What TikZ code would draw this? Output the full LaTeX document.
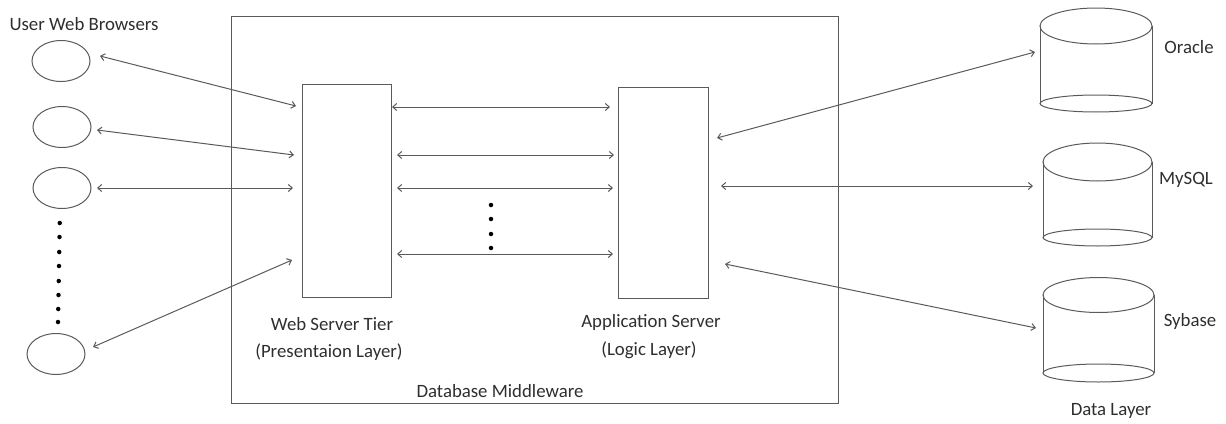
\documentclass[tikz,border=0pt]{standalone}
\usepackage{fontspec}
\setmainfont{Carlito}
\usetikzlibrary{shapes.geometric,arrows.meta}
\definecolor{ln}{HTML}{5A5A5A}
\definecolor{tx}{HTML}{2E2E2E}
\begin{document}
\begin{tikzpicture}[x=1pt,y=-1pt,
  lbl/.style={text=tx,font=\fontsize{18.8}{21}\selectfont,inner sep=0pt},
  browser/.style={draw=ln,line width=1pt,ellipse,minimum width=58pt,minimum height=41pt,inner sep=0pt},
  tierbox/.style={draw=ln,line width=1pt,rectangle,inner sep=0pt},
  conn/.style={draw=ln,line width=1pt,{Straight Barb[length=4pt,width=7pt]}-{Straight Barb[length=4pt,width=7pt]}},
  dotm/.style={fill=black,circle,inner sep=0pt,minimum size=4.5pt},
  cyl/.style={draw=ln,line width=1pt}]
\useasboundingbox (0,0) rectangle (1226,423);
% middleware box
\node[tierbox,minimum width=607pt,minimum height=387pt,anchor=north west] (mw) at (231,16) {};
\node[tierbox,minimum width=89pt,minimum height=213pt,anchor=north west] (ws) at (302,84) {};
\node[tierbox,minimum width=90pt,minimum height=211pt,anchor=north west] (as) at (618,87) {};
% browsers
\node[browser] (b1) at (61,61) {};
\node[browser] (b2) at (62,127) {};
\node[browser] (b3) at (62,188) {};
\node[browser] (b4) at (56,354) {};
\foreach \i/\y in {1/223,2/237,3/252,4/266,5/281,6/295,7/309,8/322}
  \node[dotm] (vd\i) at ({60-\i*0.25},\y) {};
\foreach \i/\y in {1/205,2/219,3/234,4/248}
  \node[dotm] (md\i) at (491,\y) {};
% cylinders
\draw[cyl] (1096,26) ellipse [x radius=56, y radius=18];
\draw[cyl] (1040,26) -- (1040,103.5) (1152,26) -- (1152,103.5);
\draw[cyl] (1096,103.5) ellipse [x radius=56, y radius=8.5];
\node[inner sep=0pt,minimum width=112pt,minimum height=105pt] (ora) at (1096,60) {};
\draw[cyl] (1097.5,162) ellipse [x radius=54.5, y radius=19];
\draw[cyl] (1043,162) -- (1043,237.5) (1152,162) -- (1152,237.5);
\draw[cyl] (1097.5,237.5) ellipse [x radius=54.5, y radius=8.5];
\node[inner sep=0pt,minimum width=109pt,minimum height=103pt] (mys) at (1097.5,194) {};
\draw[cyl] (1098.5,295) ellipse [x radius=55.5, y radius=17.5];
\draw[cyl] (1043,295) -- (1043,373) (1154,295) -- (1154,373);
\draw[cyl] (1098.5,373) ellipse [x radius=55.5, y radius=9];
\node[inner sep=0pt,minimum width=111pt,minimum height=104pt] (syb) at (1098.5,330) {};
% connector endpoints
\coordinate (b1e) at (100,56); \coordinate (w1) at (296,106);
\coordinate (b2e) at (97,130); \coordinate (w2) at (294,155);
\coordinate (b3e) at (97,188); \coordinate (w3) at (293,188);
\coordinate (b4e) at (93,347); \coordinate (w4) at (292,260);
\coordinate (m1a) at (392,107); \coordinate (m1b) at (610,107);
\coordinate (m2a) at (397,155); \coordinate (m2b) at (614,155);
\coordinate (m3a) at (397,188); \coordinate (m3b) at (613,188);
\coordinate (m4a) at (397,254); \coordinate (m4b) at (613,254);
\coordinate (r1a) at (717,138); \coordinate (r1b) at (1035,52);
\coordinate (r2a) at (721,186); \coordinate (r2b) at (1033,186);
\coordinate (r3a) at (725,264); \coordinate (r3b) at (1036,328);
\foreach \a/\b in {b1e/w1,b2e/w2,b3e/w3,b4e/w4,m1a/m1b,m2a/m2b,m3a/m3b,m4a/m4b,r1a/r1b,r2a/r2b,r3a/r3b}
  \draw[conn] (\a) -- (\b);
% labels
\node[lbl] (tub) at (84,24) {User Web Browsers};
\node[lbl] (tws) at (332,324) {Web Server Tier};
\node[lbl] (twsl) at (329,352) {(Presentaion Layer)};
\node[lbl] (tas) at (651,322) {Application Server};
\node[lbl] (tasl) at (649,350) {(Logic Layer)};
\node[lbl] (tmw) at (500,391) {Database Middleware};
\node[lbl] (tora) at (1189,47) {Oracle};
\node[lbl] (tmys) at (1186,180) {MySQL};
\node[lbl] (tsyb) at (1190,321) {Sybase};
\node[lbl] (tdl) at (1111,411) {Data Layer};
\end{tikzpicture}
\end{document}
